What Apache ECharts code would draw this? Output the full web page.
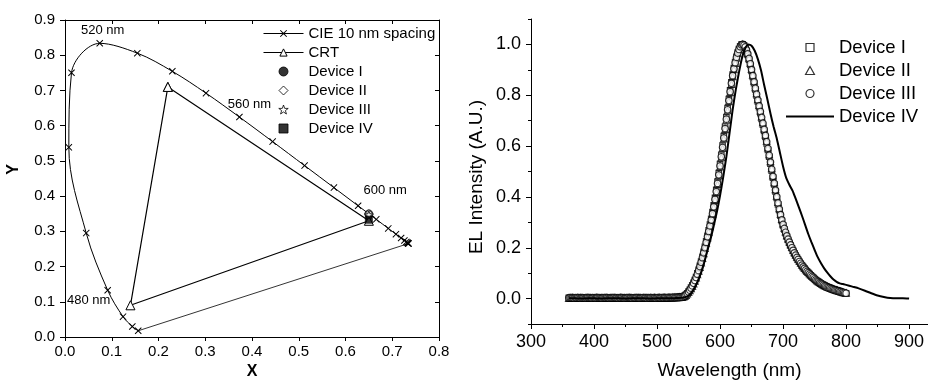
<!DOCTYPE html>
<html>
<head>
<meta charset="utf-8">
<script src="https://cdn.jsdelivr.net/npm/echarts@6/dist/echarts.min.js"></script>
<style>
  html, body { margin: 0; padding: 0; background: #fff; }
  #chart { width: 928px; height: 385px; }
</style>
</head>
<body>
<div id="chart"></div>
<script>
// ---- left panel: CIE 1931 locus (10 nm spacing), 450-700 nm
const cieNm = [450,460,470,480,490,500,510,520,530,540,550,560,570,580,590,600,610,620,630,640,650,660,670,680,690,700];
const cieX = [0.1566,0.1440,0.1241,0.0913,0.0454,0.0082,0.0139,0.0743,0.1547,0.2296,0.3016,0.3731,0.4441,0.5125,0.5752,0.6270,0.6658,0.6915,0.7079,0.7190,0.7260,0.7300,0.7320,0.7334,0.7344,0.7347];
const cieY = [0.0177,0.0297,0.0578,0.1327,0.2950,0.5384,0.7502,0.8338,0.8059,0.7543,0.6923,0.6245,0.5547,0.4866,0.4242,0.3725,0.3340,0.3083,0.2920,0.2809,0.2740,0.2700,0.2680,0.2666,0.2656,0.2653];

// CRT triangle: green, red, blue, back to green
const crtX = [0.22, 0.65, 0.14, 0.22];
const crtY = [0.71, 0.33, 0.09, 0.71];

// device CIE coordinates (I, II, III, IV)
const devCieX = [0.650, 0.650, 0.650, 0.650];
const devCieY = [0.349, 0.349, 0.347, 0.333];

// ---- right panel: EL spectra
const wavelength = [
  360,362,364,366,368,370,372,374,376,378,380,382,384,386,388,390,392,394,396,398,
  400,402,404,406,408,410,412,414,416,418,420,422,424,426,428,430,432,434,436,438,
  440,442,444,446,448,450,452,454,456,458,460,462,464,466,468,470,472,474,476,478,
  480,482,484,486,488,490,492,494,496,498,500,502,504,506,508,510,512,514,516,518,
  520,522,524,526,528,530,532,534,536,538,
  540,542,544,546,548,550,552,554,556,558,560,562,564,566,568,570,572,574,576,578,
  580,582,584,586,588,590,592,594,596,598,600,602,604,606,608,610,612,614,616,618,
  620,622,624,626,628,630,632,634,636,638,640,642,644,646,648,650,652,654,656,658,
  660,662,664,666,668,670,672,674,676,678,680,682,684,686,688,690,692,694,696,698,
  700,702,704,706,708,710,712,714,716,718,720,722,724,726,728,730,732,734,736,738,
  740,742,744,746,748,750,752,754,756,758,760,762,764,766,768,770,772,774,776,778,
  780,782,784,786,788,790,792,794,796,798,800
];

const elDevI = [
  0.003,0.003,0.004,0.003,0.002,0.003,0.003,0.003,0.004,0.003,0.002,0.003,0.003,0.004,0.003,0.003,0.002,0.003,0.003,0.003,
  0.004,0.003,0.003,0.002,0.003,0.003,0.004,0.003,0.003,0.002,0.003,0.003,0.003,0.004,0.003,0.002,0.003,0.003,0.003,0.004,
  0.003,0.003,0.002,0.003,0.003,0.004,0.003,0.003,0.002,0.003,0.003,0.003,0.004,0.003,0.003,0.002,0.003,0.003,0.004,0.003,
  0.003,0.002,0.003,0.003,0.004,0.003,0.003,0.003,0.002,0.003,0.003,0.004,0.003,0.003,0.003,0.004,0.003,0.004,0.004,0.004,
  0.004,0.005,0.004,0.005,0.005,0.005,0.005,0.006,0.006,0.006,
  0.007,0.009,0.012,0.016,0.021,0.027,0.034,0.043,0.052,0.062,0.073,0.085,0.099,0.113,0.129,0.146,0.164,0.184,0.204,0.225,
  0.247,0.268,0.291,0.314,0.340,0.367,0.396,0.428,0.460,0.494,0.529,0.565,0.602,0.639,0.676,0.713,0.749,0.785,0.819,0.851,
  0.881,0.907,0.930,0.951,0.968,0.982,0.992,0.999,1.000,0.996,0.988,0.975,0.959,0.940,0.919,0.896,0.872,0.848,0.823,0.799,
  0.776,0.753,0.730,0.707,0.684,0.660,0.636,0.611,0.585,0.558,0.531,0.503,0.476,0.449,0.422,0.396,0.371,0.348,0.326,0.306,
  0.288,0.272,0.257,0.244,0.231,0.219,0.208,0.198,0.188,0.178,0.169,0.160,0.152,0.145,0.137,0.130,0.124,0.118,0.112,0.106,
  0.101,0.096,0.091,0.086,0.082,0.077,0.073,0.069,0.066,0.062,0.059,0.056,0.053,0.050,0.048,0.045,0.043,0.041,0.039,0.037,
  0.035,0.034,0.032,0.031,0.029,0.028,0.026,0.025,0.023,0.022,0.021
];

const elDevII = [
  0.002,0.003,0.003,0.004,0.003,0.003,0.002,0.003,0.003,0.004,0.003,0.003,0.002,0.003,0.003,0.003,0.004,0.003,0.002,0.003,
  0.003,0.003,0.004,0.003,0.003,0.002,0.003,0.003,0.004,0.003,0.003,0.003,0.002,0.003,0.003,0.004,0.003,0.003,0.002,0.003,
  0.003,0.004,0.003,0.003,0.003,0.002,0.003,0.003,0.004,0.003,0.003,0.002,0.003,0.003,0.003,0.004,0.003,0.003,0.002,0.003,
  0.003,0.003,0.004,0.003,0.002,0.003,0.003,0.003,0.004,0.003,0.003,0.003,0.004,0.003,0.003,0.004,0.004,0.003,0.004,0.004,
  0.004,0.004,0.005,0.004,0.005,0.005,0.005,0.005,0.006,0.006,
  0.006,0.008,0.010,0.014,0.019,0.025,0.032,0.040,0.049,0.059,0.070,0.082,0.095,0.109,0.124,0.141,0.159,0.178,0.198,0.219,
  0.240,0.262,0.284,0.307,0.332,0.358,0.387,0.418,0.450,0.484,0.519,0.555,0.592,0.629,0.666,0.703,0.740,0.776,0.811,0.844,
  0.874,0.902,0.926,0.947,0.965,0.979,0.990,0.997,1.000,0.998,0.991,0.980,0.965,0.947,0.927,0.904,0.880,0.856,0.831,0.807,
  0.784,0.761,0.739,0.716,0.693,0.669,0.645,0.620,0.594,0.567,0.540,0.512,0.484,0.457,0.430,0.404,0.379,0.355,0.333,0.313,
  0.295,0.278,0.263,0.249,0.236,0.224,0.213,0.202,0.192,0.182,0.173,0.164,0.156,0.148,0.141,0.134,0.127,0.121,0.115,0.109,
  0.104,0.099,0.094,0.089,0.084,0.080,0.076,0.072,0.068,0.065,0.061,0.058,0.055,0.052,0.050,0.047,0.045,0.043,0.041,0.039,
  0.037,0.035,0.034,0.032,0.030,0.029,0.027,0.026,0.024,0.023,0.022
];

const elDevIII = [
  0.003,0.004,0.003,0.003,0.002,0.003,0.003,0.004,0.003,0.002,0.003,0.003,0.003,0.002,0.003,0.004,0.003,0.003,0.002,0.003,
  0.003,0.002,0.003,0.004,0.003,0.003,0.002,0.003,0.003,0.003,0.004,0.003,0.002,0.003,0.003,0.003,0.004,0.003,0.003,0.002,
  0.003,0.003,0.004,0.003,0.002,0.003,0.003,0.004,0.003,0.003,0.002,0.003,0.003,0.003,0.004,0.003,0.002,0.003,0.003,0.004,
  0.003,0.003,0.002,0.003,0.003,0.004,0.003,0.003,0.003,0.002,0.003,0.004,0.003,0.003,0.004,0.003,0.004,0.004,0.003,0.004,
  0.004,0.004,0.004,0.005,0.004,0.005,0.005,0.005,0.005,0.006,
  0.006,0.008,0.011,0.015,0.020,0.026,0.033,0.041,0.050,0.060,0.071,0.083,0.096,0.110,0.126,0.143,0.161,0.180,0.200,0.221,
  0.243,0.264,0.286,0.309,0.334,0.361,0.390,0.421,0.453,0.487,0.522,0.558,0.595,0.632,0.669,0.706,0.743,0.779,0.814,0.847,
  0.877,0.904,0.928,0.949,0.966,0.980,0.991,0.998,1.000,0.997,0.990,0.978,0.963,0.945,0.924,0.901,0.877,0.853,0.828,0.804,
  0.781,0.758,0.736,0.713,0.690,0.666,0.642,0.617,0.591,0.564,0.537,0.509,0.481,0.454,0.427,0.401,0.376,0.352,0.330,0.310,
  0.292,0.276,0.261,0.247,0.234,0.222,0.211,0.200,0.190,0.180,0.171,0.162,0.154,0.146,0.139,0.132,0.125,0.119,0.113,0.107,
  0.102,0.097,0.092,0.087,0.083,0.078,0.074,0.070,0.067,0.063,0.060,0.057,0.054,0.051,0.049,0.046,0.044,0.042,0.040,0.038,
  0.036,0.034,0.033,0.031,0.030,0.028,0.027,0.025,0.024,0.022,0.021
];

// device IV is drawn as a line, sampled coarser
const wlDevIV = [
  360,370,380,390,400,410,420,430,440,450,460,470,480,490,500,510,520,530,540,
  545,550,555,560,565,570,575,580,585,590,595,600,605,610,615,620,625,630,635,640,
  645,650,655,660,665,670,675,680,685,690,695,700,705,710,715,720,725,730,735,740,
  745,750,755,760,765,770,775,780,785,790,795,800,
  810,820,830,840,850,860,870,880,890,900
];
const elDevIV = [
  0.001,0.001,0.000,0.001,0.001,0.000,0.001,0.001,0.001,0.000,0.001,0.001,0.001,0.000,0.001,0.001,0.001,0.002,0.003,
  0.006,0.012,0.025,0.045,0.071,0.103,0.143,0.190,0.234,0.286,0.341,0.405,0.478,0.558,0.650,0.743,0.822,0.890,0.949,0.985,
  1.000,0.995,0.975,0.942,0.898,0.840,0.785,0.728,0.676,0.630,0.575,0.520,0.475,0.448,0.425,0.393,0.360,0.326,0.290,0.254,
  0.222,0.192,0.163,0.140,0.120,0.103,0.088,0.075,0.066,0.060,0.057,0.054,
  0.047,0.040,0.031,0.021,0.012,0.006,0.002,0.001,0.001,0.000
];

// tick positions of the spectrum panel
const elTicks = [0, 0.2, 0.4, 0.6, 0.8, 1.0];
const elMinorTicks = [-0.1, 0.1, 0.3, 0.5, 0.7, 0.9, 1.1];
const wlTicks = [300, 400, 500, 600, 700, 800, 900];
const wlMinorTicks = [350, 450, 550, 650, 750, 850];

// symbols
const CROSS = 'path://M0,1L1,0L5,4L9,0L10,1L6,5L10,9L9,10L5,6L1,10L0,9L4,5Z';
const SQUARE = 'path://M0,0L10,0L10,10L0,10Z';
const TRI = 'path://M5,0L10,9L0,9Z';
const DIAMOND = 'path://M5,0L10,5L5,10L0,5Z';
const STAR = 'path://M5,0L6.18,3.38L9.76,3.45L6.9,5.62L7.94,9.05L5,7L2.06,9.05L3.1,5.62L0.24,3.45L3.82,3.38Z';
const BAR = 'path://M0,0L24,0L24,1L0,1Z';

const FONT = 'Liberation Sans, Arial, sans-serif';
const pairs = (xs, ys) => xs.map((x, i) => [x, ys[i]]);

// wavelength labels on the locus
const labelOffsets = { 480: [-19, 10], 520: [3, -13], 560: [10, -13], 600: [27, -15] };
const cieData = cieX.map((x, i) => {
  const item = { value: [x, cieY[i]] };
  const off = labelOffsets[cieNm[i]];
  if (off) {
    item.label = {
      show: true, position: 'inside', offset: off,
      formatter: cieNm[i] + ' nm', fontSize: 13, color: '#000', fontFamily: FONT
    };
  }
  return item;
});
const last = cieX.length - 1;

const black = { color: '#000', width: 1 };
const openStyle = { color: '#fff', borderColor: '#000', borderWidth: 1 };
const elOpen = { color: '#fff', borderColor: '#000', borderWidth: 1.2 };
const fix1 = v => v.toFixed(1);

let chart = echarts.init(document.getElementById('chart'));
let option = {
  animation: false,
  backgroundColor: '#fff',
  textStyle: { fontFamily: FONT, color: '#000' },
  grid: [
    { left: 65, top: 20, width: 374, height: 320 },
    { left: 531, top: 19, width: 397, height: 305 }
  ],
  legend: [
    {
      data: [
        { name: 'CIE 10 nm spacing', itemStyle: { borderWidth: 0 } },
        'CRT', 'Device I', 'Device II', 'Device III', 'Device IV'
      ],
      orient: 'vertical', left: 258, top: 21,
      itemWidth: 40, itemHeight: 9, itemGap: 4,
      selectedMode: false,
      itemStyle: { borderWidth: 1 },
      lineStyle: { width: 1 },
      textStyle: { fontSize: 15, color: '#000', fontFamily: FONT }
    },
    {
      data: [
        'Device I (EL)', 'Device II (EL)', 'Device III (EL)',
        { name: 'Device IV (EL)', icon: BAR, itemStyle: { borderWidth: 0 } }
      ],
      orient: 'vertical', left: 781, top: 33,
      itemWidth: 48, itemHeight: 8, itemGap: 4,
      selectedMode: false,
      itemStyle: { borderWidth: 1.2 },
      formatter: n => n.replace(' (EL)', ''),
      textStyle: { fontSize: 18.5, color: '#000', fontFamily: FONT }
    }
  ],
  xAxis: [
    {
      gridIndex: 0, type: 'value', min: 0, max: 0.8, interval: 0.1, position: 'bottom',
      name: 'X', nameLocation: 'middle', nameGap: 27,
      nameTextStyle: { fontSize: 16, fontWeight: 'bold', color: '#000' },
      axisLine: { onZero: false, lineStyle: black },
      axisTick: { length: 4, lineStyle: black },
      axisLabel: { fontSize: 15, color: '#000', margin: 7, formatter: fix1 },
      splitLine: { show: false }
    },
    {
      gridIndex: 0, type: 'value', min: 0, max: 0.8, interval: 0.1, position: 'top',
      axisLine: { onZero: false, lineStyle: black },
      axisTick: { inside: true, length: 4, lineStyle: black },
      axisLabel: { show: false },
      splitLine: { show: false }
    },
    {
      gridIndex: 1, type: 'value', min: 300, max: 930, interval: 100, position: 'bottom',
      name: 'Wavelength (nm)', nameLocation: 'middle', nameGap: 37,
      nameTextStyle: { fontSize: 19, color: '#000' },
      axisLine: { onZero: false, lineStyle: black },
      axisTick: { length: 5, lineStyle: black, customValues: wlTicks },
      axisLabel: { fontSize: 18, color: '#000', margin: 9, customValues: wlTicks },
      splitLine: { show: false }
    },
    {
      gridIndex: 1, type: 'value', min: 300, max: 930, interval: 100, position: 'bottom',
      axisLine: { show: false, onZero: false },
      axisTick: { length: 3, lineStyle: black, customValues: wlMinorTicks },
      axisLabel: { show: false },
      splitLine: { show: false }
    }
  ],
  yAxis: [
    {
      gridIndex: 0, type: 'value', min: 0, max: 0.9, interval: 0.1, position: 'left',
      name: 'Y', nameLocation: 'middle', nameGap: 43,
      nameTextStyle: { fontSize: 16, fontWeight: 'bold', color: '#000', padding: [0, 0, 0, 18] },
      axisLine: { show: true, onZero: false, lineStyle: black },
      axisTick: { show: true, length: 5, lineStyle: black },
      axisLabel: { fontSize: 15, color: '#000', margin: 10, formatter: fix1 },
      splitLine: { show: false }
    },
    {
      gridIndex: 0, type: 'value', min: 0, max: 0.9, interval: 0.1, position: 'right',
      axisLine: { show: true, onZero: false, lineStyle: black },
      axisTick: { show: true, inside: true, length: 4, lineStyle: black },
      axisLabel: { show: false },
      splitLine: { show: false }
    },
    {
      gridIndex: 1, type: 'value', min: -0.1, max: 1.1, interval: 0.1, position: 'left',
      name: 'EL Intensity (A.U.)', nameLocation: 'middle', nameGap: 45,
      nameTextStyle: { fontSize: 19, color: '#000', padding: [0, 11, 0, 0] },
      axisLine: { show: true, onZero: false, lineStyle: black },
      axisTick: { show: true, length: 5, lineStyle: black, customValues: elTicks },
      axisLabel: { fontSize: 18, color: '#000', margin: 10, formatter: fix1, customValues: elTicks },
      splitLine: { show: false }
    },
    {
      gridIndex: 1, type: 'value', min: -0.1, max: 1.1, interval: 0.1, position: 'left',
      axisLine: { show: false, onZero: false },
      axisTick: { show: true, length: 3, lineStyle: black, customValues: elMinorTicks },
      axisLabel: { show: false },
      splitLine: { show: false }
    }
  ],
  series: [
    // ---- CIE panel
    {
      name: 'CIE 10 nm spacing', type: 'line', xAxisIndex: 0, yAxisIndex: 0,
      data: cieData, smooth: 0.35,
      symbol: CROSS, symbolSize: 7,
      lineStyle: { color: '#000', width: 1 },
      itemStyle: { color: '#000', borderWidth: 0 },
      z: 2
    },
    {
      name: 'purple', type: 'line', xAxisIndex: 0, yAxisIndex: 0,
      data: [[cieX[last], cieY[last]], [cieX[0], cieY[0]]],
      symbol: 'none', silent: true,
      lineStyle: { color: '#000', width: 0.8 },
      z: 2
    },
    {
      name: 'CRT', type: 'line', xAxisIndex: 0, yAxisIndex: 0,
      data: pairs(crtX, crtY),
      symbol: 'triangle', symbolSize: 9,
      lineStyle: { color: '#000', width: 1.2 },
      itemStyle: openStyle,
      z: 3
    },
    {
      name: 'Device I', type: 'scatter', xAxisIndex: 0, yAxisIndex: 0,
      data: [[devCieX[0], devCieY[0]]], symbol: 'circle', symbolSize: 9,
      itemStyle: { color: '#000', borderColor: '#000', borderWidth: 0 }, z: 4
    },
    {
      name: 'Device II', type: 'scatter', xAxisIndex: 0, yAxisIndex: 0,
      data: [[devCieX[1], devCieY[1]]], symbol: DIAMOND, symbolSize: 9,
      itemStyle: openStyle, z: 4
    },
    {
      name: 'Device III', type: 'scatter', xAxisIndex: 0, yAxisIndex: 0,
      data: [[devCieX[2], devCieY[2]]], symbol: STAR, symbolSize: 8,
      itemStyle: openStyle, z: 4
    },
    {
      name: 'Device IV', type: 'scatter', xAxisIndex: 0, yAxisIndex: 0,
      data: [[devCieX[3], devCieY[3]]], symbol: SQUARE, symbolSize: 8,
      itemStyle: { color: '#000', borderColor: '#000', borderWidth: 0 }, z: 4
    },
    // ---- EL panel
    {
      name: 'Device I (EL)', type: 'scatter', xAxisIndex: 2, yAxisIndex: 2,
      data: pairs(wavelength, elDevI), symbol: SQUARE, symbolSize: 5.5,
      itemStyle: elOpen
    },
    {
      name: 'Device II (EL)', type: 'scatter', xAxisIndex: 2, yAxisIndex: 2,
      data: pairs(wavelength, elDevII), symbol: TRI, symbolSize: 6.5,
      itemStyle: elOpen
    },
    {
      name: 'Device III (EL)', type: 'scatter', xAxisIndex: 2, yAxisIndex: 2,
      data: pairs(wavelength, elDevIII), symbol: 'circle', symbolSize: 6.5,
      itemStyle: elOpen
    },
    {
      name: 'Device IV (EL)', type: 'line', xAxisIndex: 2, yAxisIndex: 2,
      data: pairs(wlDevIV, elDevIV), symbol: 'none', smooth: 0.2,
      lineStyle: { color: '#000', width: 2 },
      itemStyle: { color: '#000' },
      z: 3
    }
  ]
};
chart.setOption(option);
</script>
</body>
</html>
